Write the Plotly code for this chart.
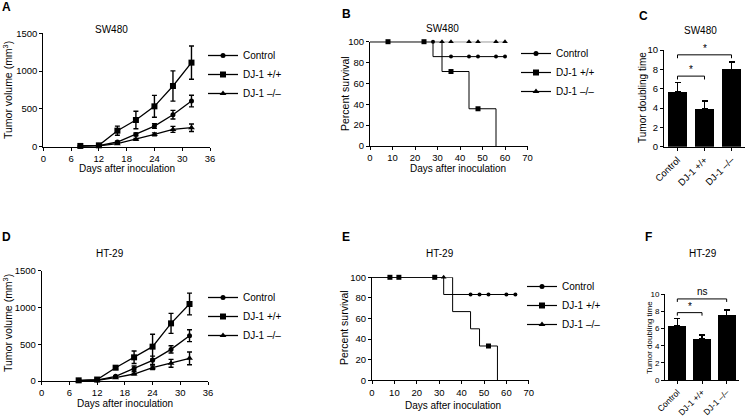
import plotly.graph_objects as go

W, H = 746, 417
FONT = "Liberation Sans, Arial, sans-serif"

# ---------------- data ----------------
groups = ["Control", "DJ-1 +/+", "DJ-1 \u2013/\u2013"]
symbols = ["circle", "square", "triangle-up"]
msizes = [5, 6, 6]

days = [8, 12, 16, 20, 24, 28, 32]

sw_vol = [
    [8, 15, 62, 163, 273, 423, 604],
    [10, 18, 212, 353, 534, 803, 1112],
    [6, 12, 40, 97, 163, 229, 251],
]
sw_vol_err = [
    [3, 5, 12, 18, 30, 57, 77],
    [4, 8, 60, 115, 145, 200, 220],
    [2, 4, 8, 12, 20, 40, 50],
]
ht_vol = [
    [6, 12, 63, 168, 281, 430, 616],
    [9, 20, 181, 322, 467, 784, 1047],
    [5, 10, 45, 95, 181, 240, 308],
]
ht_vol_err = [
    [2, 4, 10, 35, 57, 50, 80],
    [4, 6, 20, 85, 168, 136, 148],
    [2, 3, 8, 12, 25, 54, 86],
]

# Kaplan-Meier steps (time, percent survival)
sw_surv_t = [[0, 28, 60], [0, 32, 44, 56], [0, 60]]
sw_surv_p = [[100, 85.7, 85.7], [100, 71.4, 35.7, 0], [100, 100]]
sw_cens_t = [[28, 36, 44, 48, 56, 60], [8, 24, 36, 48], [32, 36, 44, 48, 56, 60]]
sw_cens_p = [[100, 85.7, 85.7, 85.7, 85.7, 85.7], [100, 100, 71.4, 35.7],
             [100, 100, 100, 100, 100, 100]]

ht_surv_t = [[0, 32, 64], [0, 36, 44, 48, 56], [0, 32]]
ht_surv_p = [[100, 83.3, 83.3], [100, 66.7, 50, 33.3, 0], [100, 100]]
ht_cens_t = [[44, 48, 52, 60, 64], [8, 12, 28, 52], [32]]
ht_cens_p = [[83.3, 83.3, 83.3, 83.3, 83.3], [100, 100, 100, 33.3], [100]]

# tumor doubling time
bar_pos = [0, 1, 2]
sw_dt = [5.7, 3.95, 8.0]
sw_dt_err = [0.92, 0.78, 0.76]
ht_dt = [6.3, 4.8, 7.5]
ht_dt_err = [0.9, 0.45, 0.65]

sig_pairs = [(0, 1), (0, 2)]
sw_sig_y = [7.3, 9.5]
sw_sig_text = ["*", "*"]
ht_sig_y = [7.86, 9.46]
ht_sig_text = ["*", "ns"]

# ---------------- helpers ----------------
def px(x):
    return x / W

def py(y):
    return 1 - y / H

fig = go.Figure()

def vol_panel(xa, ya, vals, errs, legend):
    for i in range(3):
        fig.add_trace(go.Scatter(
            x=days, y=vals[i], xaxis=xa, yaxis=ya, name=groups[i],
            mode="lines+markers", legend=legend,
            line=dict(color="black", width=1.3),
            marker=dict(symbol=symbols[i], size=msizes[i], color="black"),
            error_y=dict(type="data", array=errs[i], color="black",
                         thickness=1.4, width=2.5),
            cliponaxis=False,
        ))

def surv_panel(xa, ya, st, sp, ct, cp, legend):
    for i in range(3):
        fig.add_trace(go.Scatter(
            x=st[i], y=sp[i], xaxis=xa, yaxis=ya, mode="lines",
            line=dict(color="black", width=1, shape="hv"),
            showlegend=False, cliponaxis=False))
        fig.add_trace(go.Scatter(
            x=ct[i], y=cp[i], xaxis=xa, yaxis=ya, mode="markers",
            marker=dict(symbol=symbols[i], size=msizes[i] - 1, color="black"),
            showlegend=False, cliponaxis=False))
    for i in range(3):
        fig.add_trace(go.Scatter(
            x=[None], y=[None], xaxis=xa, yaxis=ya, mode="lines+markers",
            name=groups[i], legend=legend,
            line=dict(color="black", width=1.2),
            marker=dict(symbol=symbols[i], size=msizes[i], color="black")))

def bar_panel(xa, ya, vals, errs, sig_y, sig_text, fs):
    fig.add_trace(go.Bar(
        x=bar_pos, y=vals, xaxis=xa, yaxis=ya, width=0.74,
        marker=dict(color="black", line=dict(width=0)),
        error_y=dict(type="data", symmetric=False, array=errs,
                     arrayminus=[0] * len(errs), color="black",
                     thickness=1.5, width=3),
        showlegend=False))
    for (a, b), yv, t in zip(sig_pairs, sig_y, sig_text):
        drop = 0.35
        fig.add_shape(type="path", xref=xa, yref=ya,
                      path=f"M {bar_pos[a]},{yv - drop} L {bar_pos[a]},{yv} "
                           f"L {bar_pos[b]},{yv} L {bar_pos[b]},{yv - drop}",
                      line=dict(color="black", width=1))
        fig.add_annotation(x=(bar_pos[a] + bar_pos[b]) / 2, y=yv, xref=xa, yref=ya,
                           text=t, showarrow=False, yanchor="bottom",
                           font=dict(size=fs, color="black", family=FONT),
                           yshift=-1 if t == "*" else 0)

vol_panel("x", "y", sw_vol, sw_vol_err, "legend")
surv_panel("x2", "y2", sw_surv_t, sw_surv_p, sw_cens_t, sw_cens_p, "legend2")
bar_panel("x3", "y3", sw_dt, sw_dt_err, sw_sig_y, sw_sig_text, 10)
vol_panel("x4", "y4", ht_vol, ht_vol_err, "legend3")
surv_panel("x5", "y5", ht_surv_t, ht_surv_p, ht_cens_t, ht_cens_p, "legend4")
bar_panel("x6", "y6", ht_dt, ht_dt_err, ht_sig_y, ht_sig_text, 10)

# ---------------- axes ----------------
tickfont = dict(size=9.5, color="black", family=FONT)
base = dict(showline=True, linecolor="black", linewidth=1, ticks="outside",
            ticklen=3, tickwidth=1, tickcolor="black", showgrid=False,
            zeroline=False, tickfont=tickfont, automargin=False, fixedrange=True)

def xdom(a, b):
    return [px(a), px(b)]

def ydom(top, bottom):
    return [py(bottom), py(top)]

layout_axes = dict(
    xaxis=dict(base, domain=xdom(43.3, 210), range=[0, 36], dtick=6, anchor="y"),
    yaxis=dict(base, domain=ydom(33.3, 146.7), range=[0, 1500], dtick=500, anchor="x"),
    xaxis2=dict(base, domain=xdom(370, 527.5), range=[0, 70], dtick=10, anchor="y2"),
    yaxis2=dict(base, domain=ydom(41.7, 146), range=[0, 100], dtick=20, anchor="x2"),
    xaxis3=dict(base, domain=xdom(664, 745), range=[-0.5, 2.5], anchor="y3",
                tickvals=bar_pos, ticktext=groups, tickangle=-45,
                tickfont=dict(size=9.5, color="black", family=FONT)),
    yaxis3=dict(base, domain=ydom(50, 146.7), range=[0, 10], dtick=2, anchor="x3"),
    xaxis4=dict(base, domain=xdom(41.7, 208), range=[0, 36], dtick=6, anchor="y4"),
    yaxis4=dict(base, domain=ydom(270.7, 381), range=[0, 1500], dtick=500, anchor="x4"),
    xaxis5=dict(base, domain=xdom(372, 528.8), range=[0, 70], dtick=10, anchor="y5"),
    yaxis5=dict(base, domain=ydom(277.3, 380.3), range=[0, 100], dtick=20, anchor="x5"),
    xaxis6=dict(base, domain=xdom(665, 739), range=[-0.5, 2.5], anchor="y6",
                tickvals=bar_pos, ticktext=groups, tickangle=-45,
                tickfont=dict(size=8.5, color="black", family=FONT)),
    yaxis6=dict(base, domain=ydom(294.3, 380), range=[0, 10], dtick=2, anchor="x6",
                tickfont=dict(size=8, color="black", family=FONT)),
)

legfont = dict(size=10, color="black", family=FONT)
def leg(xp, yp):
    return dict(x=px(xp), y=py(yp), xanchor="left", yanchor="top",
                font=legfont, bgcolor="rgba(0,0,0,0)", borderwidth=0,
                tracegroupgap=0, itemclick=False, itemdoubleclick=False)

fig.update_layout(
    width=W, height=H, margin=dict(l=0, r=0, t=0, b=0),
    paper_bgcolor="white", plot_bgcolor="white",
    font=dict(family=FONT, color="black", size=10),
    showlegend=True,
    legend=leg(203, 41),
    legend2=leg(516, 39),
    legend3=leg(203, 283),
    legend4=leg(522, 272),
    bargap=0,
    **layout_axes,
)

# ---------------- text annotations ----------------
def txt(x, y, t, size=10, bold=False, angle=0, xanchor="center"):
    fig.add_annotation(x=px(x), y=py(y), xref="paper", yref="paper", text=t,
                       showarrow=False, textangle=angle, xanchor=xanchor,
                       yanchor="middle",
                       font=dict(size=size, color="black", family=FONT,
                                 weight="bold" if bold else "normal"))

for lab, x, y in [("A", 0, 7), ("B", 340, 14), ("C", 637, 16),
                  ("D", 0, 237), ("E", 340, 237), ("F", 643, 237)]:
    txt(x, y, lab, size=12, bold=True, xanchor="left")

txt(112, 29, "SW480")
txt(443, 28, "SW480")
txt(700, 30, "SW480")
txt(110, 253, "HT-29")
txt(440, 253, "HT-29")
txt(703, 253, "HT-29")

txt(127, 169, "Days after inoculation")
txt(458, 169, "Days after inoculation")
txt(125, 403, "Days after inoculation")
txt(453, 405, "Days after inoculation")

txt(7, 90, "Tumor volume (mm<sup>3</sup>)", size=10.5, angle=-90)
txt(7, 323, "Tumor volume (mm<sup>3</sup>)", size=10.5, angle=-90)
txt(345, 94, "Percent survival", size=10.5, angle=-90)
txt(344, 328, "Percent survival", size=10.5, angle=-90)
txt(643, 98, "Tumor doubling time", size=10, angle=-90)
txt(649, 338, "Tumor doubling time", size=8, angle=-90)

fig.write_html("out.html", config={"displayModeBar": False},
               post_script="document.body.style.margin='0';"
                           "document.body.style.overflow='hidden';")
